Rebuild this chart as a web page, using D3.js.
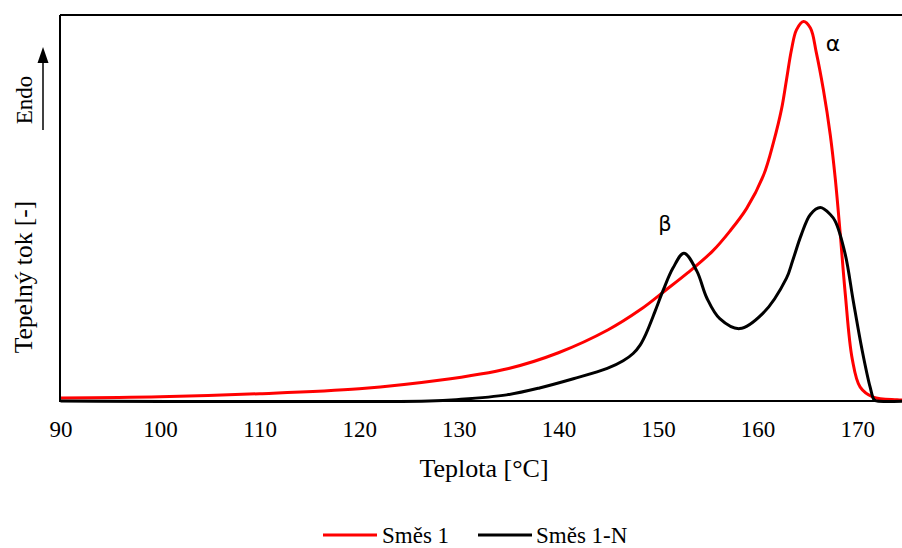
<!DOCTYPE html>
<html><head><meta charset="utf-8">
<script src="https://cdn.jsdelivr.net/npm/d3@7"></script>
<style>body{margin:0;background:#fff}svg{display:block}</style>
</head><body>
<svg id="c" width="902" height="548"></svg>
<script>
const seriesNames = ["Směs 1", "Směs 1-N"];
const seriesColors = ["#ff0000", "#000000"];
const xTicks = [90, 100, 110, 120, 130, 140, 150, 160, 170];
const red = [
  [90,0.8],[100,1.1],[110,1.9],[120,3.2],[128,5.4],[135,8.5],[140,12.6],[145,18.6],[148.2,23.8],
  [150.7,28.8],[153,33.5],[155.5,39.2],[157.2,44.3],[158.9,50.3],[160.6,59.0],[161.6,67.6],
  [162.4,76.2],[162.9,83.9],[163.4,91.7],[163.9,96.9],[164.6,99.1],[165.3,97.4],[165.9,90.9],
  [166.6,81.3],[167.3,69.4],[167.8,58.0],[168.3,43.5],[168.8,28],[169.5,11],[170.3,3.6],
  [171.6,1.0],[174,0.3],[175,0.2]
];
const black = [
  [90,0],[127,0],[130,0.4],[134.8,1.6],[138.1,3.4],[141.5,5.8],[144.9,8.5],[146.5,10.5],
  [147.5,12.4],[148.2,14.6],[148.8,17.6],[149.7,23.4],[150.5,28.8],[151.5,34.7],[152.6,38.6],
  [153.9,33.9],[154.9,26.9],[156.2,21.5],[158.2,18.9],[160.5,22.8],[162.9,32.1],[163.5,36.5],
  [164.4,43.5],[165.3,48.7],[166.3,50.5],[167.3,48.7],[167.8,46.9],[168.8,38.3],[169.6,26.2],
  [170.5,13.2],[171.3,3.6],[171.7,0.3],[172,0],[175,0]
];
const svg = d3.select("#c");
const L = 60, T = 15, B = 401;
const x = d3.scaleLinear().domain([90, 175]).range([60.5, 907]);
const y = d3.scaleLinear().domain([0, 100]).range([B, T + 3]);
const serif = "'Liberation Serif','Times New Roman',serif";

const line = d3.line().x(d => x(d[0])).y(d => Math.min(B, y(d[1]))).curve(d3.curveCatmullRom.alpha(0.5));
svg.append("defs").append("clipPath").attr("id","clip").append("rect")
  .attr("x", L).attr("y", T).attr("width", 902 - L).attr("height", B - T + 2);
const g = svg.append("g").attr("clip-path","url(#clip)");
[red, black].forEach((d, i) => {
  g.append("path").attr("d", line(d)).attr("fill","none")
    .attr("stroke", seriesColors[i]).attr("stroke-width", 3).attr("stroke-linejoin","round");
});

svg.append("line").attr("x1", L).attr("x2", 902).attr("y1", T).attr("y2", T).attr("stroke","#000").attr("stroke-width",2);
svg.append("line").attr("x1", L).attr("x2", L).attr("y1", T).attr("y2", B+1).attr("stroke","#000").attr("stroke-width",2);

const xa = svg.append("g").attr("transform", `translate(0,${B})`)
  .call(d3.axisBottom(x).tickValues(xTicks).tickSize(0).tickFormat(d3.format("d")));
xa.select(".domain").attr("stroke","#000").attr("stroke-width",2.2).attr("d", `M${L},0H902`);
xa.selectAll("text").attr("font-family", serif).attr("font-size", 23).attr("fill","#000").attr("dy", 0).attr("y", 36);

svg.append("text").attr("x", 484).attr("y", 477).attr("text-anchor","middle")
  .attr("font-family", serif).attr("font-size", 26).text("Teplota [°C]");

svg.append("text").attr("transform","translate(32,277) rotate(-90)").attr("text-anchor","middle")
  .attr("font-family", serif).attr("font-size", 25.5).text("Tepelný tok [-]");
svg.append("text").attr("transform","translate(32,100) rotate(-90)").attr("text-anchor","middle")
  .attr("font-family", serif).attr("font-size", 23).text("Endo");
svg.append("line").attr("x1",43).attr("x2",43).attr("y1",130).attr("y2",62).attr("stroke","#000").attr("stroke-width",1.5);
svg.append("path").attr("d","M43,47L37.5,63L48.5,63Z").attr("fill","#000");

svg.append("text").attr("x", 665).attr("y", 231).attr("text-anchor","middle")
  .attr("font-family","'DejaVu Sans',sans-serif").attr("font-size", 21).text("β");
svg.append("text").attr("x", 833).attr("y", 51).attr("text-anchor","middle")
  .attr("font-family","'DejaVu Sans',sans-serif").attr("font-size", 22).text("α");

const leg = [{x1:323,x2:377,tx:382},{x1:478,x2:532,tx:536}];
leg.forEach((l,i)=>{
  svg.append("line").attr("x1",l.x1).attr("x2",l.x2).attr("y1",535).attr("y2",535)
    .attr("stroke",seriesColors[i]).attr("stroke-width",3);
  svg.append("text").attr("x",l.tx).attr("y",543).attr("font-family",serif).attr("font-size",23).text(seriesNames[i]);
});
</script>
</body></html>
